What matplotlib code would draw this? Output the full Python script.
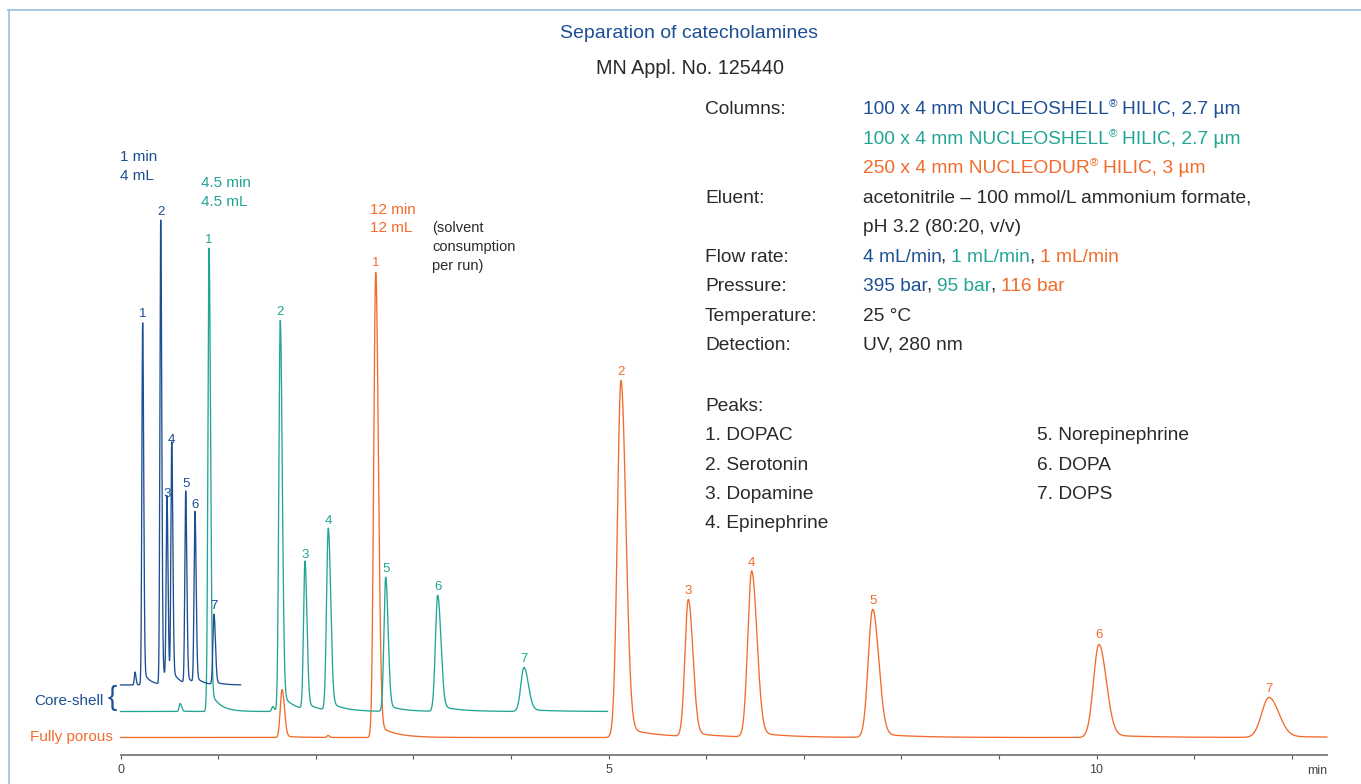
import numpy as np
import matplotlib
matplotlib.use("Agg")
import matplotlib.pyplot as plt
from matplotlib.transforms import Affine2D
from matplotlib.lines import Line2D

plt.rcParams['font.family'] = ['Liberation Sans', 'DejaVu Sans']

W, H = 1361, 784

BLUE = '#1c4f94'
TEAL = '#22a596'
ORANGE = '#f26b2b'
DARK = '#2a2a2a'
FRAME = '#a5c0e6'

# peak tables:
# retention time (min), height (signal units), width at half height (min)
blue_span = (0.0, 1.23)
blue_times = [0.149, 0.227, 0.412, 0.476, 0.525, 0.668, 0.763, 0.958]
blue_heights = [13, 362, 464, 182, 236, 192, 171, 70]
blue_fwhm = [0.02, 0.022, 0.022, 0.022, 0.023, 0.024, 0.025, 0.03]
blue_labels = ['', '1', '2', '3', '4', '5', '6', '7']

teal_span = (0.0, 4.99)
teal_times = [0.611, 0.88, 0.907, 1.56, 1.637, 1.890, 2.129, 2.717, 3.250, 4.134]
teal_heights = [8, 6, 463, 5, 391, 148, 182, 134, 116, 44]
teal_fwhm = [0.03, 0.02, 0.031, 0.03, 0.041, 0.041, 0.05, 0.05, 0.066, 0.09]
teal_labels = ['', '', '1', '', '2', '3', '4', '5', '6', '7']

orange_span = (0.0, 12.36)
orange_times = [1.655, 2.126, 2.615, 5.128, 5.818, 6.467, 7.707, 10.025, 11.767]
orange_heights = [48, 2, 465, 357, 137, 166, 128, 93, 40]
orange_fwhm = [0.05, 0.03, 0.056, 0.102, 0.095, 0.11, 0.126, 0.154, 0.205]
orange_labels = ['', '', '1', '2', '3', '4', '5', '6', '7']

# baselines of the stacked traces and of the time axis
blue_base, teal_base, orange_base, axis_y = 99, 72.5, 46.5, 29.5

minute_ticks = list(range(13))
minute_labels = ['0', '', '', '', '', '5', '', '', '', '', '10', '', '']


def peak_trace(t, times, heights, fwhm, asym, tail):
    y = np.zeros_like(t)
    for t0, h, w in zip(times, heights, fwhm):
        s = w / (1.1775 * (1 + asym))
        d = t - t0
        sig = np.where(d < 0, s, s * asym)
        g = np.exp(-0.5 * (d / sig) ** 2)
        y += h * g
        y += h * tail * (1 - g) * np.exp(-np.clip(d, 0, None) / (3 * w)) * (d > 0)
    return y


def main():
    fig = plt.figure(figsize=(W / 100, H / 100), dpi=100)
    ax = fig.add_axes([0, 0, 1, 1])
    ax.patch.set_alpha(0)
    # 0 min sits at x=120.5 px, 97.6 px per minute
    ax.set_xlim(-120.5 / 97.6, (W - 120.5) / 97.6)
    ax.set_ylim(0, H)

    PX = Affine2D().scale(1 / W, -1 / H).translate(0, 1) + fig.transFigure

    traces = [
        (orange_span, orange_times, orange_heights, orange_fwhm, orange_labels, orange_base, ORANGE, 1.35, 0.03),
        (teal_span, teal_times, teal_heights, teal_fwhm, teal_labels, teal_base, TEAL, 1.4, 0.05),
        (blue_span, blue_times, blue_heights, blue_fwhm, blue_labels, blue_base, BLUE, 1.3, 0.04),
    ]
    for span, times, heights, fwhm, labels, base, color, asym, tail in traces:
        t = np.linspace(span[0], span[1], 20000)
        y = base + peak_trace(t, times, heights, fwhm, asym, tail)
        ax.plot(t, y, color=color, lw=0.95)
        for t0, h, lab in zip(times, heights, labels):
            if lab:
                ax.annotate(lab, (t0, base + h), xytext=(0, 3), textcoords='offset pixels',
                            ha='center', va='bottom', color=color, fontsize=9.5)

    # time axis
    for side in ['left', 'right', 'top']:
        ax.spines[side].set_visible(False)
    ax.spines['bottom'].set_position(('data', axis_y))
    ax.spines['bottom'].set_bounds(minute_ticks[0], orange_span[1])
    ax.spines['bottom'].set_color('#7a7a7a')
    ax.spines['bottom'].set_linewidth(1.3)
    ax.set_xticks(minute_ticks)
    ax.set_xticklabels(minute_labels)
    ax.tick_params(axis='x', direction='out', length=3, width=0.8, color='#555555',
                   labelsize=9, labelcolor='#444444', pad=4)
    ax.set_yticks([])
    ax.text(orange_span[1], axis_y - 16, 'min', ha='right', va='center', fontsize=9, color='#444444')

    # frame
    fig.add_artist(Line2D([8.5, W], [10, 10], transform=PX, color=FRAME, lw=1.3))
    fig.add_artist(Line2D([9, 9], [10, H], transform=PX, color=FRAME, lw=1.3))

    # titles
    ax.text(689, 33, 'Separation of catecholamines', transform=PX, ha='center', va='center',
            fontsize=14, color=BLUE)
    ax.text(690, 68, 'MN Appl. No. 125440', transform=PX, ha='center', va='center',
            fontsize=14.2, color=DARK)

    # run annotations
    for x, y, s, c in [(120, 157, '1 min', BLUE), (120, 176, '4 mL', BLUE),
                       (201, 183, '4.5 min', TEAL), (201, 202, '4.5 mL', TEAL),
                       (370, 210, '12 min', ORANGE), (370, 228, '12 mL', ORANGE),
                       (432, 228, '(solvent', DARK), (432, 247, 'consumption', DARK),
                       (432, 266, 'per run)', DARK)]:
        ax.text(x, y, s, transform=PX, ha='left', va='center', fontsize=11 if c != DARK else 10.5, color=c)

    ax.text(104, 701.5, 'Core-shell', transform=PX, ha='right', va='center', fontsize=11, color=BLUE)
    ax.text(112, 698, '{', transform=PX, ha='center', va='center', fontsize=20, color=BLUE)
    ax.text(113, 737, 'Fully porous', transform=PX, ha='right', va='center', fontsize=11, color=ORANGE)

    # conditions block
    fs = 13.8
    em = fs * 100 / 72

    def line(x, yc, parts):
        first = None
        prev = None
        for s, c, gap, scale, rise in parts:
            if first is None:
                first = ax.text(x, yc + 0.36 * em, s, transform=PX, ha='left', va='baseline',
                                fontsize=fs * scale, color=c)
                prev = first
            else:
                prev = ax.annotate(s, xy=(1, 0), xycoords=(prev, first),
                                   xytext=(gap * fs, rise), textcoords='offset points',
                                   ha='left', va='bottom', fontsize=fs * scale, color=c)

    def plain(s, c=DARK):
        return [(s, c, 0, 1, 0)]

    def column(size, name, rest, c):
        return [(size + ' ' + name, c, 0, 1, 0), ('®', c, 0.02, 0.6, 6.5), (rest, c, 0.25, 1, 0)]

    def sep(chunks):
        out = []
        for i, (s, c) in enumerate(chunks):
            if i:
                out.append((',', DARK, -0.06, 1, 0))
            out.append((s, c, 0.28 if i else 0, 1, 0))
        return out

    rows = [
        (107, 'Columns:', column('100 x 4 mm', 'NUCLEOSHELL', 'HILIC, 2.7 µm', BLUE)),
        (137, None, column('100 x 4 mm', 'NUCLEOSHELL', 'HILIC, 2.7 µm', TEAL)),
        (166, None, column('250 x 4 mm', 'NUCLEODUR', 'HILIC, 3 µm', ORANGE)),
        (196, 'Eluent:', plain('acetonitrile – 100 mmol/L ammonium formate,')),
        (225, None, plain('pH 3.2 (80:20, v/v)')),
        (255, 'Flow rate:', sep([('4 mL/min', BLUE), ('1 mL/min', TEAL), ('1 mL/min', ORANGE)])),
        (284, 'Pressure:', sep([('395 bar', BLUE), ('95 bar', TEAL), ('116 bar', ORANGE)])),
        (314, 'Temperature:', plain('25 °C')),
        (343, 'Detection:', plain('UV, 280 nm')),
    ]
    for yc, label, parts in rows:
        if label:
            line(705, yc, plain(label))
        line(863, yc, parts)

    line(705, 404, plain('Peaks:'))
    for yc, s in zip([433, 463, 492, 521], ['1. DOPAC', '2. Serotonin', '3. Dopamine', '4. Epinephrine']):
        line(705, yc, plain(s))
    for yc, s in zip([433, 463, 492], ['5. Norepinephrine', '6. DOPA', '7. DOPS']):
        line(1037, yc, plain(s))

    fig.savefig('out.png', dpi=100)


if __name__ == "__main__":
    main()
